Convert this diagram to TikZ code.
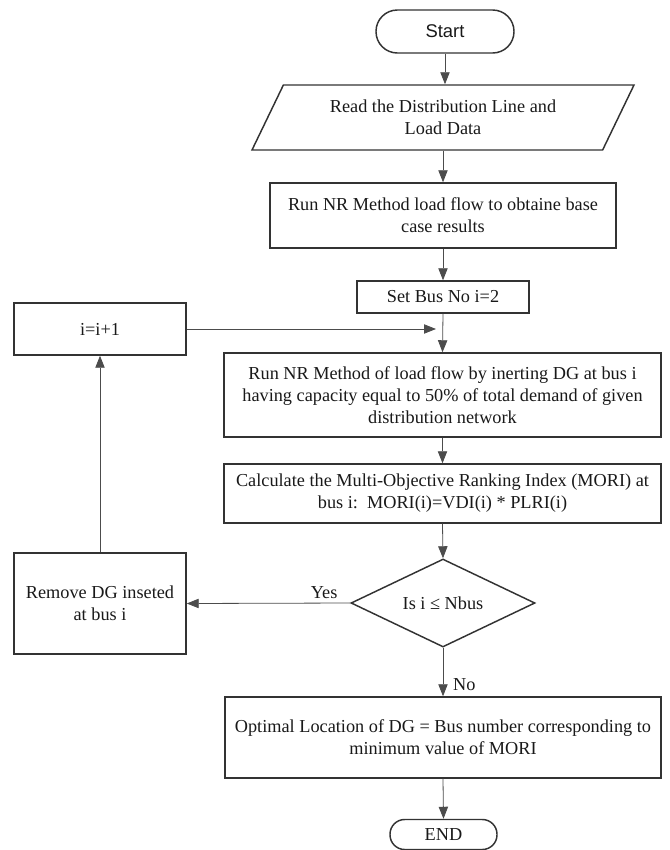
\documentclass[tikz,border=0pt]{standalone}
\usepackage{fontspec}
\setmainfont{Liberation Serif}
\newfontfamily\startfont{Liberation Sans}
\usetikzlibrary{arrows.meta,shapes.geometric}

\tikzset{
	box/.style={draw=black!80, line width=1.1pt, rectangle, align=center, inner sep=0pt},
	terminal/.style={box, rounded corners=#1},
	flow/.style={draw=black!70, line width=0.6pt, -{Triangle[length=9pt,width=7pt]}},
}

\begin{document}
\begin{tikzpicture}[x=0.75pt, y=-0.75pt, font=\fontsize{13.7}{16.5}\selectfont, text=black!90]
		%%%%% START %%%%%
		\useasboundingbox (0,0) rectangle (669,850);
		
		\node[terminal=16pt, minimum width=103.5pt, minimum height=32.25pt, font=\startfont\fontsize{13.8}{16}\selectfont] (start) at (445,31.5) {Start};
		
		\node[box, trapezium, trapezium left angle=48, trapezium right angle=132, trapezium stretches body, minimum width=286.5pt, minimum height=48.75pt] (read) at (443,117.5) {Read the Distribution Line and\\Load Data};
		
		\node[box, minimum width=259.5pt, minimum height=48.75pt] (run) at (443,215.5) {Run NR Method load flow to obtaine base\\case results};
		\node[box, minimum width=129pt, minimum height=24pt] (setbus) at (443,297) {Set Bus No i=2};
		
		\node[box, minimum width=327.75pt, minimum height=63pt] (insert) at (442.5,395) {Run NR Method of load flow by inerting DG at bus i\\having capacity equal to 50\% of total demand of given\\distribution network};
		\node[box, minimum width=327.75pt, minimum height=44.25pt] (mori) at (442.5,493.5) {Calculate the Multi-Objective Ranking Index (MORI) at\\bus i:\ \ MORI(i)=VDI(i) * PLRI(i)};
		
		\node[box, diamond, aspect=2.09, minimum width=138pt, minimum height=66pt] (check) at (443,603) {Is i ≤ Nbus};
		
		\node[box, minimum width=129pt, minimum height=39pt] (inc) at (100,329) {i=i+1};
		\node[box, minimum width=129pt, minimum height=75.75pt] (remove) at (100,603.5) {Remove DG inseted\\at bus i};
		
		\node[box, minimum width=327pt, minimum height=60.75pt] (optimal) at (443,737.5) {Optimal Location of DG = Bus number corresponding to\\minimum value of MORI};
		\node[terminal=11pt, minimum width=80.25pt, minimum height=22.5pt] (end) at (443.5,834.5) {END};
		
		\coordinate (merge) at (436,329);
		
		\draw[flow] (start) -- (start |- read.north);
		\draw[flow] (run |- read.south) -- (run.north);
		\draw[flow] (run.south) -- (setbus.north);
		\draw[flow] (setbus.south) -- (insert.north);
		\draw[flow] (inc.east) -- (merge);
		\draw[flow] (insert.south) -- (mori.north);
		\draw[flow] (mori.south) -- (check.north);
		\draw[flow] (check.west) -- node[above, pos=0.16] {Yes} (remove.east);
		\draw[flow] (remove.north) -- (inc.south);
		\draw[flow] (check.south) -- node[right, pos=0.76, xshift=4pt] {No} (optimal.north);
		\draw[flow] (optimal.south) -- (end.north);
		
		%%%%% END %%%%%
	\end{tikzpicture}
\end{document}
